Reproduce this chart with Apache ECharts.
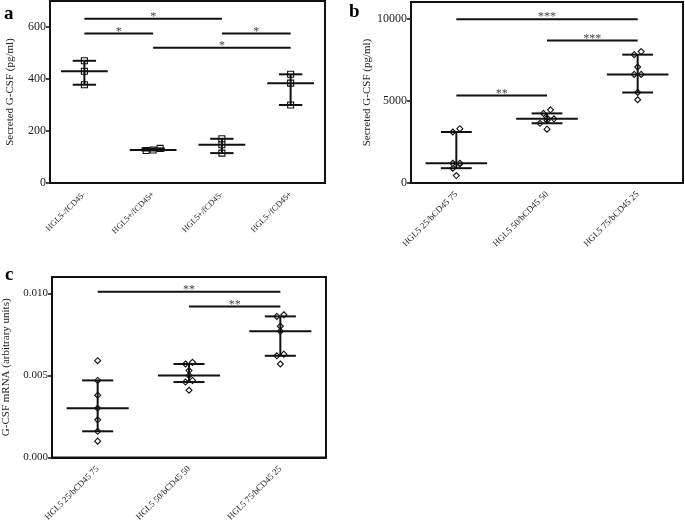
<!DOCTYPE html>
<html>
<head>
<meta charset="utf-8">
<script src="https://cdn.jsdelivr.net/npm/echarts@6/dist/echarts.min.js"></script>
<style>
  html, body { margin: 0; padding: 0; background: #fff; }
  #chart { width: 685px; height: 524px; }
</style>
</head>
<body>
<div id="chart"></div>
<script>
// panel a: secreted G-CSF, 4 groups of 3
const catsA = ["HGL5-/fCD45-", "HGL5+/fCD45+", "HGL5+/fCD45-", "HGL5-/fCD45+"];
const valsA = [
  [470, 430, 378],
  [133, 125, 127],
  [170, 147, 115],
  [418, 384, 300]
];
const ticksA = [0, 200, 400, 600];
// [from category, to category, y]
const sigA = [[0, 2, 632], [0, 1, 575], [2, 3, 575], [1, 3, 520]];
const sigMarksA = ["*", "*", "*", "*"];

// panel b: secreted G-CSF, 3 mixes of 7
const catsB = ["HGL5 25/bCD45 75", "HGL5 50/bCD45 50", "HGL5 75/bCD45 25"];
const valsB = [
  [450, 900, 1150, 1200, 1200, 3100, 3300],
  [3270, 3630, 3800, 3900, 3950, 4230, 4450],
  [5060, 5500, 6600, 6600, 7050, 7800, 7990]
];
const ticksB = [0, 5000, 10000];
const sigB = [[0, 2, 9950], [1, 2, 8660], [0, 1, 5320]];
const sigMarksB = ["***", "***", "**"];

// panel c: G-CSF mRNA
const catsC = ["HGL5 25/bCD45 75", "HGL5 50/bCD45 50", "HGL5 75/bCD45 25"];
const valsC = [
  [0.0010, 0.0016, 0.0023, 0.0030, 0.0038, 0.0047, 0.0059],
  [0.0041, 0.0046, 0.0047, 0.0050, 0.0053, 0.0057, 0.0058],
  [0.0057, 0.0062, 0.0063, 0.0077, 0.0080, 0.0086, 0.0087]
];
const ticksC = [0, 0.005, 0.010];
const sigC = [[0, 2, 0.0101], [1, 2, 0.0092]];
const sigMarksC = ["**", "**"];

const SERIF = "'Liberation Serif', 'DejaVu Serif', serif";
const INK = "#111";

// prism style percentile, rank (n+1)p
function pct(sorted, p) {
  const n = sorted.length;
  let r = (n + 1) * p;
  if (r <= 1) return sorted[0];
  if (r >= n) return sorted[n - 1];
  const lo = Math.floor(r), f = r - lo;
  return sorted[lo - 1] + f * (sorted[lo] - sorted[lo - 1]);
}

// scatter of one group, rows of close points spread sideways
function pointsRender(vals, shape) {
  return function (params, api) {
    const g = api.value(0);
    const cx = api.coord([g, 0])[0];
    const sorted = vals[g].slice().sort((a, b) => a - b);
    const rows = [];
    sorted.forEach(v => {
      const y = api.coord([g, v])[1];
      const last = rows[rows.length - 1];
      if (last && Math.abs(last[0] - y) <= 4.5) last.push(y);
      else rows.push([y]);
    });
    const kids = [];
    const step = 7, r = 3;
    rows.forEach(row => {
      row.forEach((y, i) => {
        const x = cx + (i - (row.length - 1) / 2) * step;
        const style = { fill: "#fff", stroke: INK, lineWidth: 1.1 };
        if (shape === "square") {
          kids.push({ type: "rect", shape: { x: x - r, y: y - r, width: 2 * r, height: 2 * r }, style });
        } else {
          kids.push({ type: "polygon", shape: { points: [[x, y - r], [x + r, y], [x, y + r], [x - r, y]] }, style });
        }
      });
    });
    return { type: "group", children: kids };
  };
}

// median with interquartile whiskers
function barsRender(vals) {
  return function (params, api) {
    const g = api.value(0);
    const s = vals[g].slice().sort((a, b) => a - b);
    const band = api.size([1, 0])[0];
    const cx = api.coord([g, 0])[0];
    const ym = api.coord([g, pct(s, 0.5)])[1];
    const y1 = api.coord([g, pct(s, 0.25)])[1];
    const y3 = api.coord([g, pct(s, 0.75)])[1];
    const wm = band * 0.34, ww = band * 0.17;
    const st = { stroke: INK, lineWidth: 2 };
    return {
      type: "group",
      children: [
        { type: "line", shape: { x1: cx, y1: y1, x2: cx, y2: y3 }, style: st },
        { type: "line", shape: { x1: cx - wm, y1: ym, x2: cx + wm, y2: ym }, style: st },
        { type: "line", shape: { x1: cx - ww, y1: y1, x2: cx + ww, y2: y1 }, style: st },
        { type: "line", shape: { x1: cx - ww, y1: y3, x2: cx + ww, y2: y3 }, style: st }
      ]
    };
  };
}

function sigRender(marks) {
  return function (params, api) {
    const p1 = api.coord([api.value(0), api.value(2)]);
    const p2 = api.coord([api.value(1), api.value(2)]);
    return {
      type: "group",
      children: [
        { type: "line", shape: { x1: p1[0], y1: p1[1], x2: p2[0], y2: p2[1] }, style: { stroke: INK, lineWidth: 2 } },
        {
          type: "text",
          style: {
            x: (p1[0] + p2[0]) / 2, y: p1[1] - 2,
            text: marks[params.dataIndex],
            fill: "#444", font: "12px " + SERIF,
            textAlign: "center", textVerticalAlign: "middle"
          }
        }
      ]
    };
  };
}

function xAxis(idx, cats, size) {
  return {
    type: "category", gridIndex: idx, data: cats, boundaryGap: true,
    axisLine: { lineStyle: { color: INK, width: 2 } },
    axisTick: { show: false },
    splitLine: { show: false },
    axisLabel: { rotate: 45, margin: 10, color: "#222", fontFamily: SERIF, fontSize: size }
  };
}

function yAxis(idx, max, ticks, name, size, gap, fmt) {
  return {
    type: "value", gridIndex: idx, min: 0, max: max,
    name: name, nameLocation: "middle", nameGap: gap,
    nameTextStyle: { fontFamily: SERIF, fontSize: 11, color: "#222" },
    axisLine: { show: true, lineStyle: { color: INK, width: 2 } },
    axisTick: { show: true, length: 4, customValues: ticks, lineStyle: { color: INK, width: 1.5 } },
    splitLine: { show: false },
    axisLabel: { customValues: ticks, margin: 4, color: "#222", fontFamily: SERIF, fontSize: size, formatter: fmt }
  };
}

function panelSeries(idx, vals, shape, sig, marks) {
  const groups = vals.map((v, i) => [i]);
  return [
    { type: "custom", xAxisIndex: idx, yAxisIndex: idx, z: 2, data: groups, renderItem: pointsRender(vals, shape), silent: true },
    { type: "custom", xAxisIndex: idx, yAxisIndex: idx, z: 3, data: groups, renderItem: barsRender(vals), silent: true },
    { type: "custom", xAxisIndex: idx, yAxisIndex: idx, z: 3, data: sig, encode: { x: [0, 1], y: 2 }, renderItem: sigRender(marks), silent: true }
  ];
}

const chart = echarts.init(document.getElementById("chart"));
const gridStyle = { show: true, borderColor: INK, borderWidth: 2, backgroundColor: "transparent", containLabel: false };

chart.setOption({
  animation: false,
  backgroundColor: "#fff",
  grid: [
    Object.assign({ left: 50, top: 1, width: 275, height: 182 }, gridStyle),
    Object.assign({ left: 411, top: 2, width: 272, height: 181 }, gridStyle),
    Object.assign({ left: 50, top: 277, width: 276, height: 183 }, gridStyle)
  ],
  xAxis: [xAxis(0, catsA, 8.4), xAxis(1, catsB, 9), xAxis(2, catsC, 8.8)],
  yAxis: [
    yAxis(0, 700, ticksA, "Secreted G-CSF (pg/ml)", 12, 34, v => String(v)),
    yAxis(1, 11000, ticksB, "Secreted G-CSF (pg/ml)", 12, 38, v => String(v)),
    yAxis(2, 0.011, ticksC, "G-CSF mRNA (arbitrary units)", 11, 40, v => v.toFixed(3))
  ],
  graphic: [
    { type: "text", left: 4, top: 5, style: { text: "a", font: "bold 19px " + SERIF, fill: "#000" } },
    { type: "text", left: 349, top: 3, style: { text: "b", font: "bold 19px " + SERIF, fill: "#000" } },
    { type: "text", left: 5, top: 266, style: { text: "c", font: "bold 19px " + SERIF, fill: "#000" } }
  ],
  series: [].concat(
    panelSeries(0, valsA, "square", sigA, sigMarksA),
    panelSeries(1, valsB, "diamond", sigB, sigMarksB),
    panelSeries(2, valsC, "diamond", sigC, sigMarksC)
  )
});
</script>
</body>
</html>
